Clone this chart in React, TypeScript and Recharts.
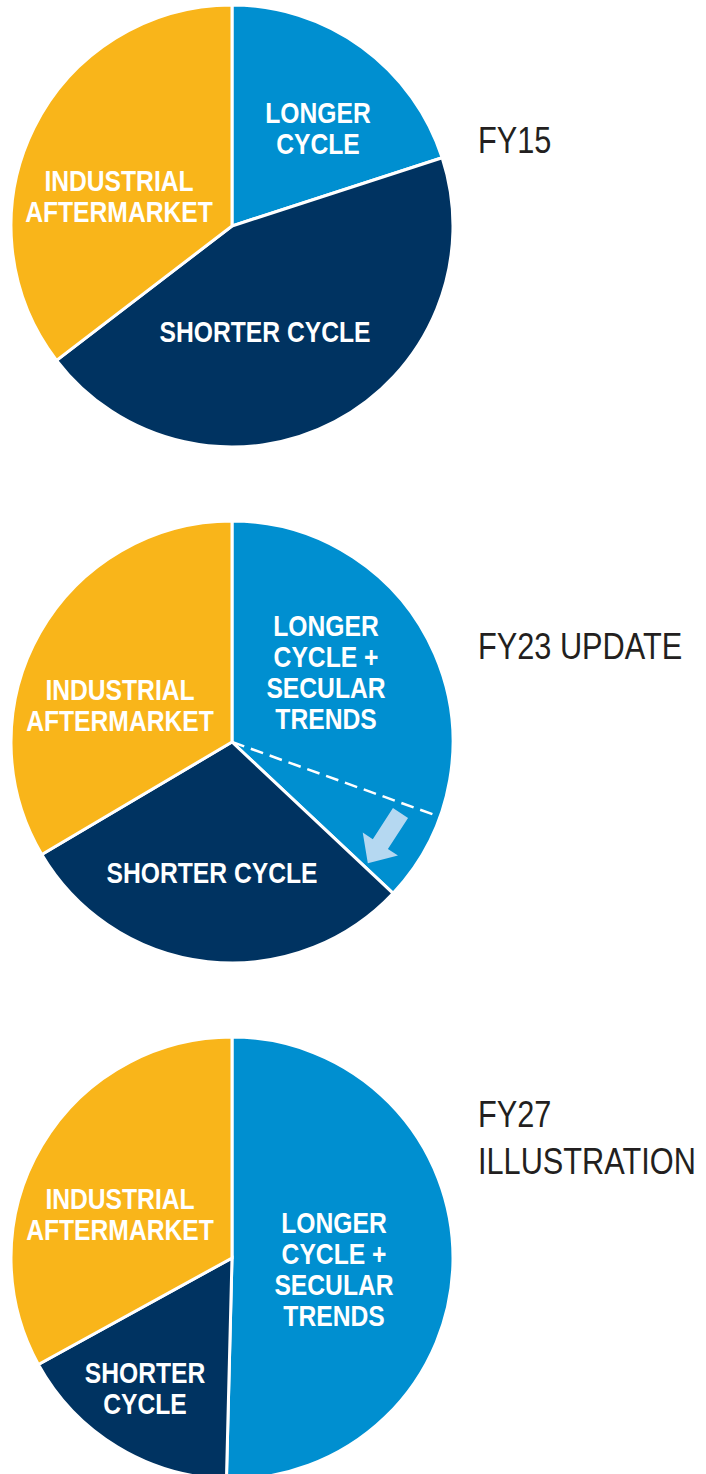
import { PieChart, Pie, Cell } from "recharts";

// segment names (\n = line break inside the slice label)
const fy15Segments = ["LONGER\nCYCLE", "SHORTER CYCLE", "INDUSTRIAL\nAFTERMARKET"];
const fy15Shares = [20, 44.6, 35.4];

const fy23Segments = ["LONGER\nCYCLE +\nSECULAR\nTRENDS", "SHORTER CYCLE", "INDUSTRIAL\nAFTERMARKET"];
const fy23Shares = [37, 29.5, 33.5];
const fy23ShiftAt = 30.5; // % of the FY23 pie where the dashed split sits

const fy27Segments = ["LONGER\nCYCLE +\nSECULAR\nTRENDS", "SHORTER\nCYCLE", "INDUSTRIAL\nAFTERMARKET"];
const fy27Shares = [50.4, 16.6, 33];

const periodLabels = ["FY15", "FY23 UPDATE", "FY27\nILLUSTRATION"];

const COLORS = ["#008fd0", "#003361", "#f9b51a"];
const W = 706;
const H = 1474;
const CX = 232;
const R = 221;
const LINE = 31;
const CAP = 21;
// no condensed face installed, so Liberation Sans gets squeezed horizontally
const FONT = "'Liberation Sans', Arial, sans-serif";
const SLICE_SQUEEZE = 0.85;
const TITLE_SQUEEZE = 0.83;

const pies = [
  {
    names: fy15Segments,
    shares: fy15Shares,
    cy: 226,
    offsets: [[86, -98], [33, 105], [-113, -30]],
    titleY: [153],
  },
  {
    names: fy23Segments,
    shares: fy23Shares,
    cy: 742,
    offsets: [[94, -70], [-20, 130], [-112, -37]],
    titleY: [659],
  },
  {
    names: fy27Segments,
    shares: fy27Shares,
    cy: 1258,
    offsets: [[102, 11], [-87, 130], [-112, -44]],
    titleY: [1127, 1174],
  },
];

function makeLabel(names: string[], offsets: number[][], cy: number) {
  return (props: any) => {
    const i = props.index;
    const lines = names[i].split("\n");
    const [dx, dy] = offsets[i];
    const x = CX + dx;
    const first = cy + dy - ((lines.length - 1) * LINE) / 2 + CAP / 2;
    return (
      <text
        key={`lbl-${cy}-${i}`}
        x={0}
        y={0}
        transform={`translate(${x},${first}) scale(${SLICE_SQUEEZE},1)`}
        textAnchor="middle"
        fill="#ffffff"
        fontFamily={FONT}
        fontWeight={700}
        fontSize={29}
      >
        {lines.map((l, k) => (
          <tspan key={k} x={0} y={k * LINE}>
            {l}
          </tspan>
        ))}
      </text>
    );
  };
}

export default function App() {
  const fy23 = pies[1];
  const a = (fy23ShiftAt / 100) * 2 * Math.PI;
  const dashEnd = { x: CX + (R + 1) * Math.sin(a), y: fy23.cy - (R + 1) * Math.cos(a) };

  return (
    <div style={{ position: "absolute", left: 0, top: 0, width: W, height: H, background: "#fff" }}>
      <PieChart width={W} height={H} margin={{ top: 0, right: 0, bottom: 0, left: 0 }}>
        {pies.map((p, pi) => (
          <Pie
            key={pi}
            data={p.names.map((n, i) => ({ name: n, value: p.shares[i] }))}
            dataKey="value"
            nameKey="name"
            cx={CX}
            cy={p.cy}
            outerRadius={R}
            startAngle={90}
            endAngle={-270}
            stroke="#ffffff"
            strokeWidth={3}
            labelLine={false}
            label={makeLabel(p.names, p.offsets, p.cy)}
            isAnimationActive={false}
          >
            {p.names.map((n, i) => (
              <Cell key={n} fill={COLORS[i]} />
            ))}
          </Pie>
        ))}
      </PieChart>
      <svg
        width={W}
        height={H}
        style={{ position: "absolute", left: 0, top: 0, pointerEvents: "none" }}
      >
        <line
          x1={CX}
          y1={fy23.cy}
          x2={dashEnd.x}
          y2={dashEnd.y}
          stroke="#ffffff"
          strokeWidth={2.5}
          strokeDasharray="13 7"
        />
        <polygon
          points="0,-9 37,-9 37,-21 60,0 37,21 37,9 0,9"
          fill="#b5d8f1"
          transform={`translate(${CX + 168.5},${fy23.cy + 71}) rotate(123)`}
        />
        {pies.map((p, pi) =>
          periodLabels[pi].split("\n").map((l, k) => (
            <text
              key={`${pi}-${k}`}
              x={0}
              y={0}
              transform={`translate(478,${p.titleY[k]}) scale(${TITLE_SQUEEZE},1)`}
              fill="#231f20"
              fontFamily={FONT}
              fontSize={37}
            >
              {l}
            </text>
          ))
        )}
      </svg>
    </div>
  );
}
